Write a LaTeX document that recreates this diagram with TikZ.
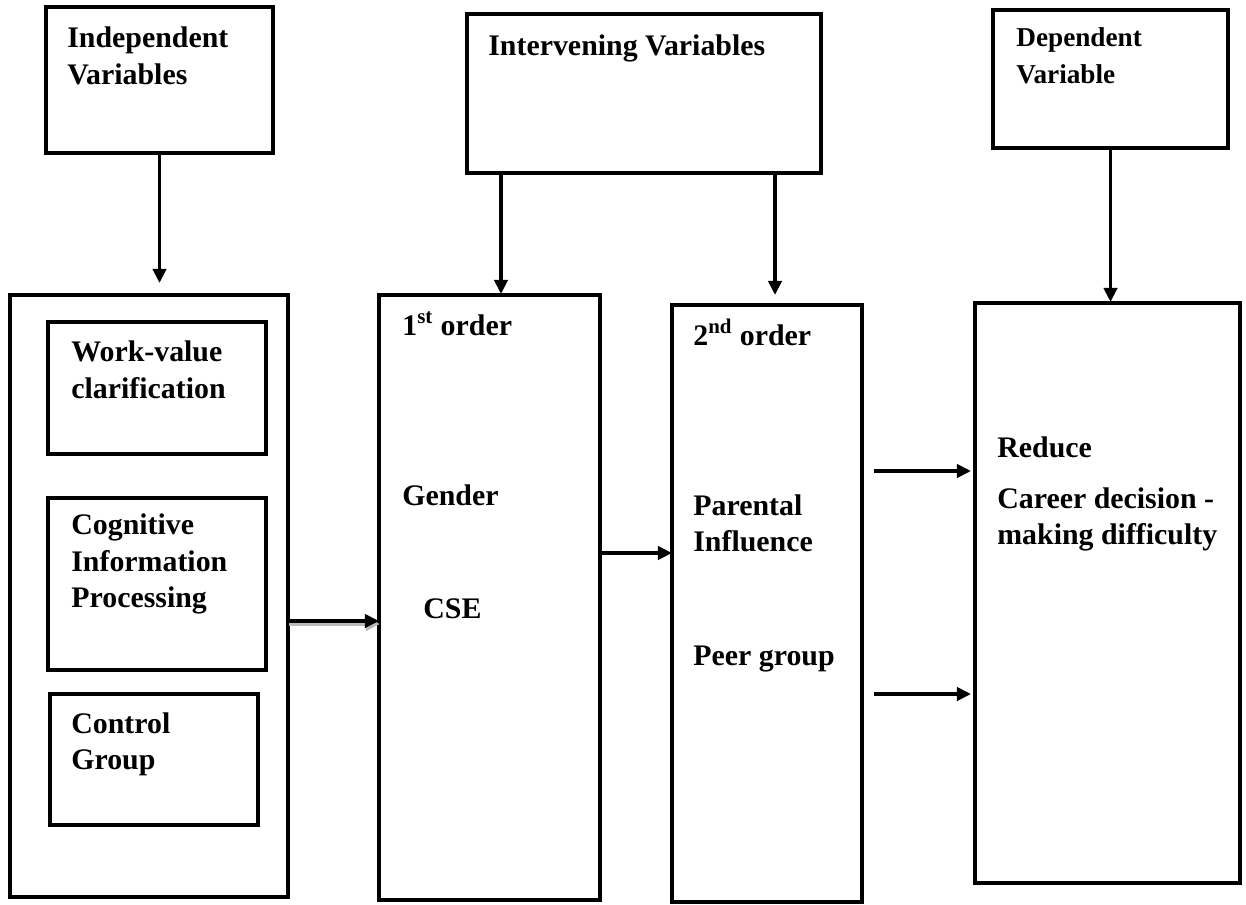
\documentclass[tikz,border=0pt]{standalone}
\usepackage{fontspec}
\setmainfont{Liberation Serif}
\usetikzlibrary{arrows.meta, calc}

\newcommand{\pxu}{0.02cm}

\begin{document}
\begin{tikzpicture}[
    x=0.02cm, y=-0.02cm,
    every node/.style={font=\fontsize{17pt}{20.5pt}\selectfont\bfseries},
    box/.style={
        draw=black,
        line width=2.3pt,
        inner sep=0pt,
        outer sep=0pt,
        anchor=north west
    },
    lbl/.style={anchor=base west, inner sep=0pt, align=left},
    arrow/.style={-{Triangle[length=8pt,width=7.5pt]}, line width=2.1pt}
]
\useasboundingbox (0,0) rectangle (1246,904);

% top boxes
\node[box, minimum width=227*\pxu, minimum height=146*\pxu] (indep) at (46,7) {};
\node[box, minimum width=354*\pxu, minimum height=159*\pxu] (interv) at (467,14) {};
\node[box, minimum width=235*\pxu, minimum height=138*\pxu] (dep) at (993,10) {};

% lower boxes
\node[box, minimum width=278*\pxu, minimum height=602*\pxu] (outer) at (10,295) {};
\node[box, minimum width=218*\pxu, minimum height=132*\pxu] (workval) at (48,322) {};
\node[box, minimum width=218*\pxu, minimum height=172*\pxu] (cogn) at (48,498) {};
\node[box, minimum width=208*\pxu, minimum height=131*\pxu] (ctrl) at (50,694) {};
\node[box, minimum width=221*\pxu, minimum height=605*\pxu] (first) at (379,295) {};
\node[box, minimum width=190*\pxu, minimum height=597*\pxu] (second) at (672,305) {};
\node[box, minimum width=265*\pxu, minimum height=580*\pxu] (reduce) at (975,303) {};

% texts (base = last line)
\node[lbl] (indeptxt) at (67,84) {Independent\\Variables};
\node[lbl] (intervtxt) at (488,55) {Intervening Variables};
\node[lbl, font=\fontsize{15.5pt}{20.5pt}\selectfont\bfseries] (deptxt) at (1016,83) {Dependent\\Variable};
\node[lbl] (workvaltxt) at (71,398) {Work-value\\clarification};
\node[lbl] (cogntxt) at (71,607) {Cognitive\\Information\\Processing};
\node[lbl] (ctrltxt) at (71,769) {Control\\Group};
\node[lbl] (firsttxt) at (402,335) {1\textsuperscript{st} order};
\node[lbl] (gender) at (402,505) {Gender};
\node[lbl] (cse) at (423,618) {CSE};
\node[lbl] (secondtxt) at (693,345) {2\textsuperscript{nd} order};
\node[lbl] (parent) at (693,551) {Parental\\Influence};
\node[lbl] (peer) at (693,665) {Peer group};
\node[lbl] (reducetxt) at (997,457) {Reduce};
\node[lbl] (career) at (997,544) {Career decision -\\making difficulty};

% vertical arrows
\draw[arrow, shorten >=12*\pxu] (indep.south) -- (indep.south |- outer.north);
\draw[arrow, shorten >=1*\pxu] ([xshift=34*\pxu]interv.south west) -- ([xshift=34*\pxu]interv.south west |- first.north);
\draw[arrow, shorten >=10*\pxu] ([xshift=-46*\pxu]interv.south east) -- ([xshift=-46*\pxu]interv.south east |- second.north);
\draw[arrow, shorten >=1*\pxu] (dep.south) -- (dep.south |- reduce.north);

% horizontal arrows
\draw[arrow, gray!55, transform canvas={xshift=1*\pxu, yshift=-3*\pxu}] ([yshift=-25*\pxu]outer.east) -- ([yshift=-25*\pxu]outer.east -| first.west);
\draw[arrow] ([yshift=-25*\pxu]outer.east) -- ([yshift=-25*\pxu]outer.east -| first.west);
\draw[arrow] ([yshift=44.5*\pxu]first.east) -- ([yshift=44.5*\pxu]first.east -| second.west);
\draw[arrow, shorten <=12*\pxu, shorten >=4*\pxu] ([yshift=132.5*\pxu]second.east) -- ([yshift=132.5*\pxu]second.east -| reduce.west);
\draw[arrow, shorten <=12*\pxu, shorten >=4*\pxu] ([yshift=-90.5*\pxu]second.east) -- ([yshift=-90.5*\pxu]second.east -| reduce.west);

\end{tikzpicture}
\end{document}
